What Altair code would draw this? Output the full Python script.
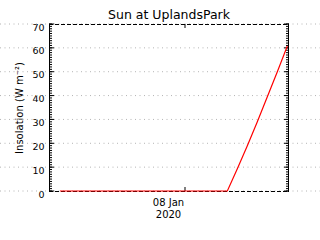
import altair as alt
import pandas as pd

# ---- data ----
times = [
    "2020-01-07T17:45:00Z", "2020-01-07T18:07:00Z", "2020-01-07T19:07:00Z",
    "2020-01-07T20:07:00Z", "2020-01-07T21:07:00Z", "2020-01-07T22:07:00Z",
    "2020-01-07T23:07:00Z", "2020-01-08T00:07:00Z", "2020-01-08T01:07:00Z",
    "2020-01-08T02:07:00Z", "2020-01-08T02:37:00Z", "2020-01-08T03:07:00Z",
    "2020-01-08T03:37:00Z", "2020-01-08T04:07:00Z", "2020-01-08T04:37:00Z",
    "2020-01-08T05:07:00Z",
]
insolation = [0, 0, 0, 0, 0, 0, 0, 0, 0, 0, 9.3, 19, 29, 39.5, 50, 60.8]
y_major = [0, 10, 20, 30, 40, 50, 60, 70]
y_minor = list(range(0, 71))
x_tick_times = ["2020-01-08T00:00:00Z"]

W, H = 240, 167

x_start = alt.DateTime(year=2020, month=1, date=7, hours=17, minutes=12, utc=True)
x_end = alt.DateTime(year=2020, month=1, date=8, hours=5, minutes=12, utc=True)

FONT = "DejaVu Sans"

xscale = alt.Scale(type="utc", domain=[x_start, x_end])
yscale = alt.Scale(domain=[0, 70], nice=False, zero=False)

x_axis = alt.Axis(
    values=[alt.DateTime(year=2020, month=1, date=8, hours=0, utc=True)],
    labelExpr="[utcFormat(datum.value, '%d %b'), utcFormat(datum.value, '%Y')]",
    ticks=False, tickSize=0, domain=False, grid=False, title=None,
    labelFont=FONT, labelFontSize=10, labelColor="black",
    labelPadding=6, labelOffset=-17, labelLineHeight=12, labelBaseline="top",
)
y_axis = alt.Axis(
    values=y_major, ticks=False, tickSize=0, domain=False, grid=False,
    title="Insolation (W m⁻²)", titleFont=FONT, titleFontSize=10,
    titleFontWeight="normal", titleColor="black", titlePadding=7,
    labelFont=FONT, labelFontSize=9.5, labelColor="black",
    labelPadding=5, labelOffset=3,
)

ts = pd.DataFrame({"t": times, "v": insolation})
major_df = pd.DataFrame({"v": y_major})
minor_df = pd.DataFrame({"v": y_minor})
xt_df = pd.DataFrame({"t": x_tick_times})

Y = lambda: alt.Y("v:Q", scale=yscale, axis=y_axis)
X = lambda: alt.X("t:T", scale=xscale, axis=x_axis)

grid = alt.Chart(major_df).mark_rule(
    color="#b4b4b4", strokeDash=[1, 3.5], strokeWidth=1
).encode(y=Y(), x=alt.value(-49), x2=alt.value(W + 31))

edge = lambda **kw: alt.Chart(major_df).mark_rule(color="black", strokeWidth=1, **kw)
frame = alt.layer(
    edge().encode(x=alt.value(0.5), y=alt.value(0), y2=alt.value(H + 1)),
    edge().encode(x=alt.value(W - 0.5), y=alt.value(0), y2=alt.value(H + 1)),
    edge(strokeDash=[4, 2]).encode(y=alt.value(0.5), x=alt.value(0), x2=alt.value(W)),
    edge(strokeDash=[4, 2]).encode(y=alt.value(H + 0.5), x=alt.value(0), x2=alt.value(W)),
)

minor_l = alt.Chart(minor_df).mark_rule(color="black").encode(
    y=Y(), x=alt.value(0), x2=alt.value(3))
minor_r = alt.Chart(minor_df).mark_rule(color="black").encode(
    y=Y(), x=alt.value(W - 3), x2=alt.value(W))
major_l = alt.Chart(major_df).mark_rule(color="black").encode(
    y=Y(), x=alt.value(0), x2=alt.value(5))
major_r = alt.Chart(major_df).mark_rule(color="black").encode(
    y=Y(), x=alt.value(W - 5), x2=alt.value(W))
xt_b = alt.Chart(xt_df).mark_rule(color="black").encode(
    x=X(), y=alt.value(H - 4), y2=alt.value(H))
xt_t = alt.Chart(xt_df).mark_rule(color="black").encode(
    x=X(), y=alt.value(0), y2=alt.value(4))

line = alt.Chart(ts).mark_line(color="red", strokeWidth=1.2).encode(x=X(), y=Y())

chart = alt.layer(
    grid, frame, minor_l, minor_r, major_l, major_r, xt_b, xt_t, line
).properties(
    width=W, height=H,
    title=alt.TitleParams("Sun at UplandsPark", font=FONT, fontSize=12.5,
                          fontWeight="normal", color="black", anchor="middle",
                          offset=1),
    autosize=alt.AutoSizeParams(type="none"),
    padding={"left": 49, "top": 24, "right": 31, "bottom": 49},
    background="white",
).configure_view(stroke=None)

chart.save("out.html", embed_options={"renderer": "svg", "actions": False})
